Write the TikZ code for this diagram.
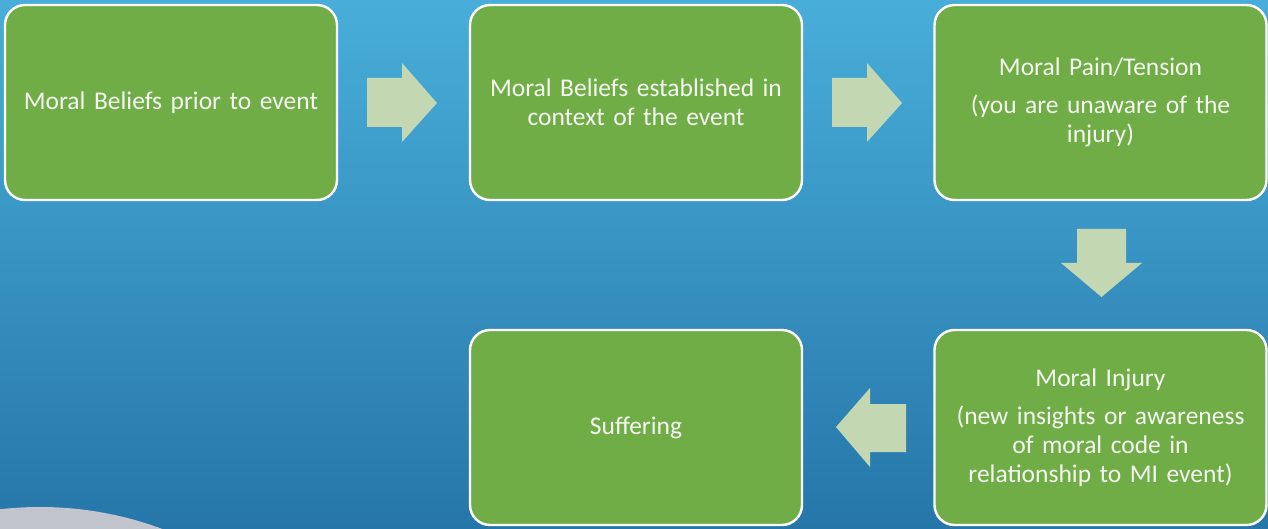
\documentclass[tikz,border=0pt]{standalone}
\usepackage{fontspec}
\setmainfont{Carlito}
\definecolor{bgtop}{HTML}{48AED9}
\definecolor{bgbot}{HTML}{2676A9}
\definecolor{boxgreen}{HTML}{70AD47}
\definecolor{arrowgreen}{HTML}{C3D8B2}
\definecolor{txtwhite}{HTML}{F4F8F0}
\definecolor{greyshape}{HTML}{C2C5CD}
\tikzset{
  stepbox/.style={draw=white, line width=2.4pt, fill=boxgreen, rounded corners=20pt,
    minimum width=332pt, minimum height=195pt, text width=316pt, align=center,
    text=txtwhite, font=\fontsize{25.5}{29}\selectfont, inner sep=0pt},
  blockarrow/.style={fill=arrowgreen, draw=none}
}
\begin{document}
\begin{tikzpicture}[x=1pt,y=-1pt]
\useasboundingbox (0,0) rectangle (1268,529);
\shade[top color=bgtop, bottom color=bgbot] (0,0) rectangle (1268,529);
\begin{scope}
\clip (0,0) rectangle (1268,529);
\fill[greyshape] (40,857) circle (350);
\end{scope}
\node[stepbox] (b1) at (171,102.5) {Moral Beliefs prior to event};
\node[stepbox] (b2) at (636,102.5) {Moral Beliefs established in\\ context of the event};
\node[stepbox] (b3) at (1100.5,102.5) {Moral Pain/Tension\\[9pt] (you are unaware of the\\ injury)};
\node[stepbox] (b5) at (1100.5,427.5) {Moral Injury\\[9pt] (new insights or awareness\\ of moral code in\\ relationship to MI event)};
\node[stepbox] (b4) at (636,427.5) {Suffering};
% right arrows
\fill[blockarrow] (367,78) -- (402,78) -- (402,63) -- (437,103) -- (402,142) -- (402,127) -- (367,127) -- cycle;
\fill[blockarrow] (832,78) -- (867,78) -- (867,63) -- (902,103) -- (867,142) -- (867,127) -- (832,127) -- cycle;
% down arrow
\fill[blockarrow] (1077,229) -- (1126,229) -- (1126,263) -- (1142,263) -- (1101.5,297) -- (1061,263) -- (1077,263) -- cycle;
% left arrow
\fill[blockarrow] (906,404) -- (870,404) -- (870,388) -- (836,427) -- (870,467) -- (870,452) -- (906,452) -- cycle;
\end{tikzpicture}
\end{document}
